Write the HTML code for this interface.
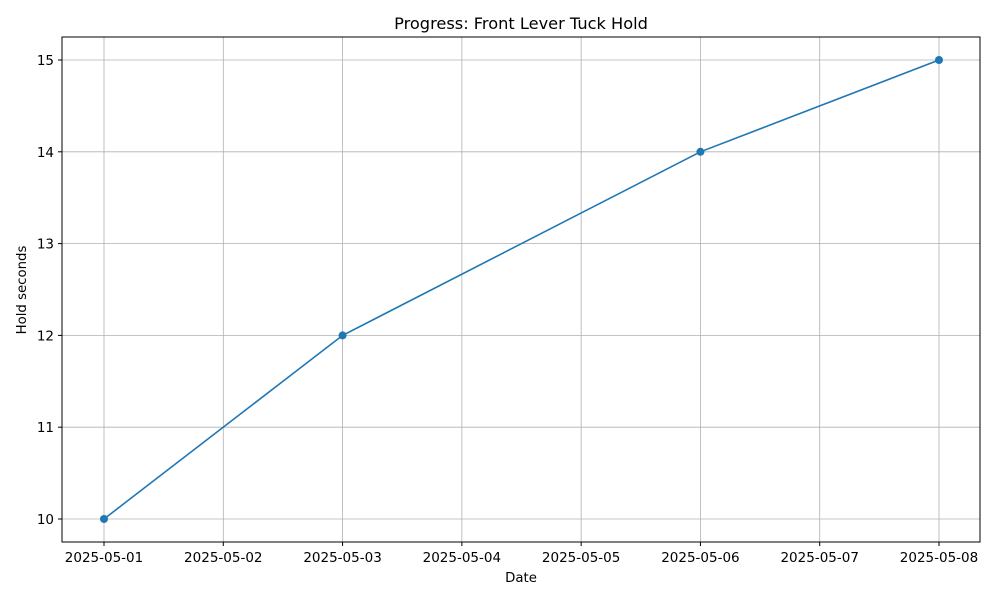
<!DOCTYPE html>
<html><head><meta charset="utf-8"><style>
body{margin:0;background:#fff;font-family:"Liberation Sans","DejaVu Sans",sans-serif;}
</style></head><body>
<svg id="chart" width="1000" height="600" xmlns="http://www.w3.org/2000/svg" font-family="'DejaVu Sans','Liberation Sans',sans-serif">
<rect width="1000" height="600" fill="#fff"/>
<g id="grid"></g>
<g id="axes"></g>
<g id="series"></g>
<rect x="62" y="37" width="918" height="505" fill="none" stroke="#000" stroke-width="1"/>
<text x="521" y="29" text-anchor="middle" font-size="16.2">Progress: Front Lever Tuck Hold</text>
<text x="521" y="582" text-anchor="middle" font-size="13.3">Date</text>
<text x="0" y="0" transform="translate(26,290) rotate(-90)" text-anchor="middle" font-size="13.3">Hold seconds</text>
</svg>
<script>
const xTickLabels=["2025-05-01","2025-05-02","2025-05-03","2025-05-04","2025-05-05","2025-05-06","2025-05-07","2025-05-08"];
const yTicks=[10,11,12,13,14,15];
const dayIndex=[0,2,5,7];
const holdSeconds=[10,12,14,15];
const NS="http://www.w3.org/2000/svg";
function xs(d){return 104+d*(939-104)/7;}
function ys(v){return 519-(v-10)*(519-60)/5;}
function mk(tag,attrs,parent){const e=document.createElementNS(NS,tag);for(const k in attrs)e.setAttribute(k,attrs[k]);parent.appendChild(e);return e;}
const grid=document.getElementById('grid'),axes=document.getElementById('axes'),series=document.getElementById('series');
xTickLabels.forEach((lab,i)=>{const x=xs(i);
 const g=mk('line',{x1:x,x2:x,y1:37,y2:542,stroke:'#b0b0b0','stroke-width':0.8},grid);
 
 const t=mk('line',{x1:x,x2:x,y1:542,y2:546,stroke:'#000'},axes);
 
 const tx=mk('text',{x:x,y:562,'text-anchor':'middle','font-size':13.5},axes);tx.textContent=lab;
 
});
yTicks.forEach(v=>{const y=ys(v);
 const g=mk('line',{x1:62,x2:980,y1:y,y2:y,stroke:'#b0b0b0','stroke-width':0.8},grid);
 
 const t=mk('line',{x1:58,x2:62,y1:y,y2:y,stroke:'#000'},axes);
 
 const tx=mk('text',{x:54,y:y+5,'text-anchor':'end','font-size':13.5},axes);tx.textContent=v;
 
});
const pts=dayIndex.map((d,i)=>xs(d)+','+ys(holdSeconds[i])).join(' ');
const pl=mk('polyline',{points:pts,fill:'none',stroke:'#1f77b4','stroke-width':1.6},series);

dayIndex.forEach((d,i)=>{const c=mk('circle',{cx:xs(d),cy:ys(holdSeconds[i]),r:4,fill:'#1f77b4'},series);
 });
</script>
</body></html>
